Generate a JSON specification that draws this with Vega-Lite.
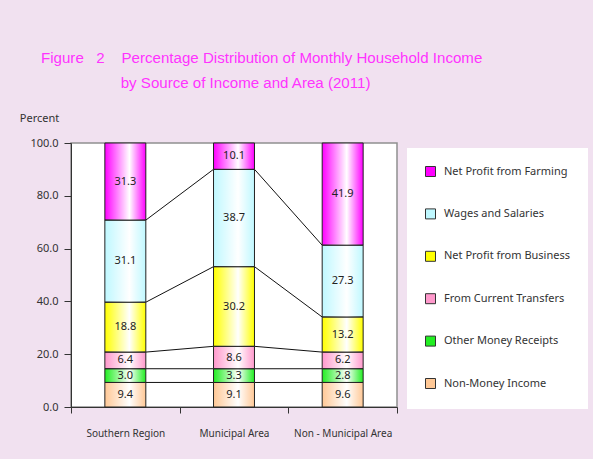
{
  "$schema": "https://vega.github.io/schema/vega-lite/v6.json",
  "autosize": {"type": "none"},
  "padding": {"left": 71, "top": 143, "right": 196, "bottom": 52},
  "width": 326,
  "height": 264,
  "background": "#f1e1f0",
  "config": {
    "view": {"fill": "#ffffff", "stroke": "#909090", "strokeWidth": 1.5},
    "font": "Noto Sans"
  },
  "title": {
    "text": [
      "Figure\u00a0\u00a0\u00a02\u00a0\u00a0\u00a0\u00a0Percentage Distribution of Monthly Household Income",
      "\u200b\u00a0\u00a0\u00a0\u00a0\u00a0\u00a0\u00a0\u00a0\u00a0\u00a0\u00a0\u00a0\u00a0\u00a0\u00a0\u00a0\u00a0\u00a0\u00a0by Source of Income and Area (2011)"
    ],
    "anchor": "start",
    "frame": "group",
    "dx": -30,
    "font": "Liberation Sans",
    "fontSize": 15.1,
    "fontWeight": "normal",
    "color": "#ff33ff",
    "lineHeight": 25,
    "offset": 21
  },
  "data": {
    "values": [
      {"area": "Southern Region", "ao": 1, "source": "Non-Money Income", "so": 1, "value": 9.4, "h": 9.3},
      {"area": "Southern Region", "ao": 1, "source": "Other Money Receipts", "so": 2, "value": 3.0, "h": 5.2},
      {"area": "Southern Region", "ao": 1, "source": "From Current Transfers", "so": 3, "value": 6.4, "h": 6.3},
      {"area": "Southern Region", "ao": 1, "source": "Net Profit from Business", "so": 4, "value": 18.8, "h": 18.9},
      {"area": "Southern Region", "ao": 1, "source": "Wages and Salaries", "so": 5, "value": 31.1, "h": 31.1},
      {"area": "Southern Region", "ao": 1, "source": "Net Profit from Farming", "so": 6, "value": 31.3, "h": 29.2},
      {"area": "Municipal Area", "ao": 2, "source": "Non-Money Income", "so": 1, "value": 9.1, "h": 9.3},
      {"area": "Municipal Area", "ao": 2, "source": "Other Money Receipts", "so": 2, "value": 3.3, "h": 5.2},
      {"area": "Municipal Area", "ao": 2, "source": "From Current Transfers", "so": 3, "value": 8.6, "h": 8.5},
      {"area": "Municipal Area", "ao": 2, "source": "Net Profit from Business", "so": 4, "value": 30.2, "h": 30.2},
      {"area": "Municipal Area", "ao": 2, "source": "Wages and Salaries", "so": 5, "value": 38.7, "h": 36.9},
      {"area": "Municipal Area", "ao": 2, "source": "Net Profit from Farming", "so": 6, "value": 10.1, "h": 10.0},
      {"area": "Non - Municipal Area", "ao": 3, "source": "Non-Money Income", "so": 1, "value": 9.6, "h": 9.3},
      {"area": "Non - Municipal Area", "ao": 3, "source": "Other Money Receipts", "so": 2, "value": 2.8, "h": 5.2},
      {"area": "Non - Municipal Area", "ao": 3, "source": "From Current Transfers", "so": 3, "value": 6.2, "h": 6.3},
      {"area": "Non - Municipal Area", "ao": 3, "source": "Net Profit from Business", "so": 4, "value": 13.2, "h": 13.3},
      {"area": "Non - Municipal Area", "ao": 3, "source": "Wages and Salaries", "so": 5, "value": 27.3, "h": 27.2},
      {"area": "Non - Municipal Area", "ao": 3, "source": "Net Profit from Farming", "so": 6, "value": 41.9, "h": 38.7}
    ]
  },
  "layer": [
    {
      "transform": [
        {"stack": "h", "groupby": ["area"], "sort": [{"field": "so", "order": "ascending"}], "as": ["lo", "hi"], "offset": "normalize"},
        {"window": [{"op": "lead", "field": "hi", "as": "nhi"}, {"op": "lead", "field": "area", "as": "narea"}], "groupby": ["source"], "sort": [{"field": "ao", "order": "ascending"}]},
        {"filter": "datum.narea != null && datum.so < 6"}
      ],
      "mark": {"type": "rule", "color": "#111111", "strokeWidth": 1},
      "encoding": {
        "x": {"field": "area", "type": "nominal", "bandPosition": 0.689, "sort": ["Southern Region", "Municipal Area", "Non - Municipal Area"]},
        "x2": {"field": "narea", "bandPosition": 0.311},
        "y": {"field": "hi", "type": "quantitative"},
        "y2": {"field": "nhi"}
      }
    },
    {
      "mark": {"type": "bar", "width": {"band": 0.377}, "strokeWidth": 0},
      "encoding": {
        "x": {
          "field": "area", "type": "nominal",
          "sort": ["Southern Region", "Municipal Area", "Non - Municipal Area"],
          "scale": {"paddingInner": 0, "paddingOuter": 0},
          "axis": {
            "title": null, "labelAngle": 0, "labelAlign": "center", "labelBaseline": "top", "tickBand": "extent", "tickSize": 6,
            "labelPadding": 15, "labelFontSize": 10, "labelColor": "#333333",
            "domainColor": "#333333", "tickColor": "#333333", "labelFont": "Noto Sans"
          }
        },
        "y": {
          "field": "h", "type": "quantitative", "stack": "normalize",
          "scale": {"domain": [0, 1], "nice": false},
          "axis": {
            "title": "Percent", "titleAngle": 0, "titleAlign": "center", "titleBaseline": "middle",
            "titleX": -32, "titleY": -25, "titleFontSize": 11, "titleFontWeight": "normal", "titleColor": "#333333",
            "values": [0, 0.2, 0.4, 0.6, 0.8, 1],
            "labelExpr": "format(datum.value * 100, '.1f')",
            "grid": false, "tickSize": 7, "labelPadding": 6, "labelFontSize": 11, "labelColor": "#333333",
            "domainColor": "#333333", "tickColor": "#333333"
          }
        },
        "color": {
          "field": "source", "type": "nominal",
          "scale": {
            "domain": ["Net Profit from Farming", "Wages and Salaries", "Net Profit from Business", "From Current Transfers", "Other Money Receipts", "Non-Money Income"],
            "range": ["#ff00ff", "#bff8ff", "#ffff00", "#ff99cc", "#22ee22", "#ffc896"]
          },
          "legend": {
            "title": null, "orient": "none", "legendX": 336, "legendY": 5,
            "fillColor": "#ffffff", "padding": 18, "rowPadding": 27.4,
            "symbolType": "square", "symbolSize": 100, "symbolStrokeColor": "#333333", "symbolStrokeWidth": 1,
            "symbolOpacity": 1,
            "labelFontSize": 11, "labelColor": "#333333", "labelOffset": 8, "labelFont": "Noto Sans", "labelLimit": 200
          }
        },
        "order": {"field": "so", "type": "quantitative"}
      }
    },
    {
      "mark": {
        "type": "bar", "width": {"band": 0.377}, "stroke": "#222222", "strokeWidth": 1,
        "color": {"gradient": "linear", "stops": [{"offset": 0, "color": "rgba(255,255,255,0)"}, {"offset": 0.6, "color": "rgba(255,255,255,1)"}, {"offset": 1, "color": "rgba(255,255,255,0)"}]}
      },
      "encoding": {
        "x": {"field": "area", "type": "nominal", "sort": ["Southern Region", "Municipal Area", "Non - Municipal Area"]},
        "y": {"field": "h", "type": "quantitative", "stack": "normalize"},
        "detail": {"field": "source"},
        "order": {"field": "so", "type": "quantitative"}
      }
    },
    {
      "mark": {"type": "text", "fontSize": 11, "color": "#222222", "font": "Noto Sans"},
      "encoding": {
        "x": {"field": "area", "type": "nominal", "sort": ["Southern Region", "Municipal Area", "Non - Municipal Area"]},
        "y": {"field": "h", "type": "quantitative", "stack": "normalize", "bandPosition": 0.5},
        "detail": {"field": "source"},
        "order": {"field": "so", "type": "quantitative"},
        "text": {"field": "value", "type": "quantitative", "format": ".1f"}
      }
    }
  ]
}
